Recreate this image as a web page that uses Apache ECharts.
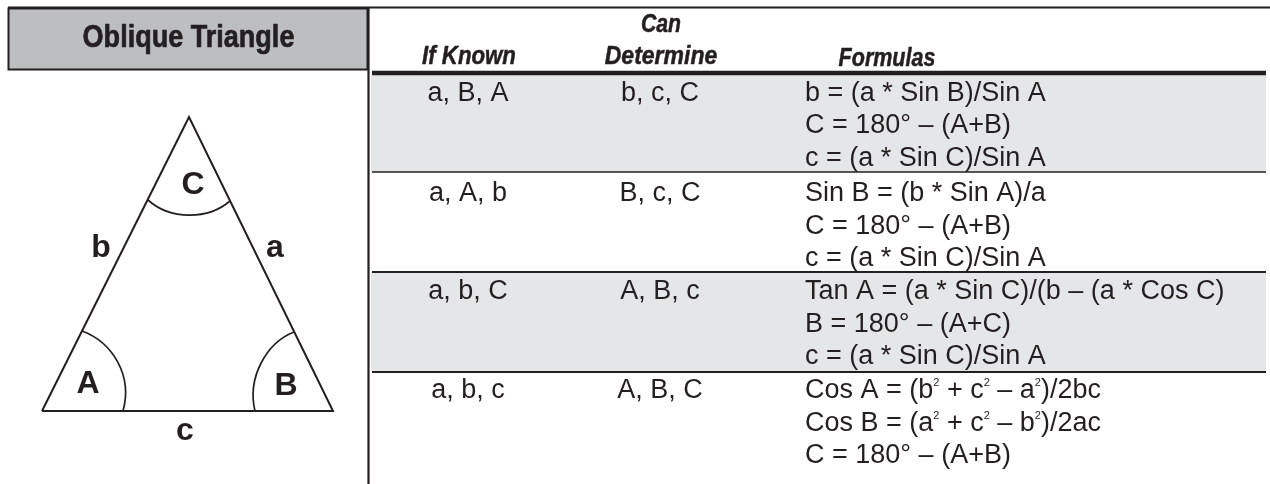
<!DOCTYPE html>
<html><head><meta charset="utf-8">
<style>html,body{margin:0;padding:0;background:#fff}#c{width:1270px;height:484px}</style>
<script src="https://cdn.jsdelivr.net/npm/echarts@6/dist/echarts.min.js"></script>
</head><body><div id="c"></div>
<script>
const title = 'Oblique Triangle';
const headerTop = ['Can'];
const headers = ['If Known', 'Determine', 'Formulas'];
const known = ['a, B, A', 'a, A, b', 'a, b, C', 'a, b, c'];
const determine = ['b, c, C', 'B, c, C', 'A, B, c', 'A, B, C'];
const formulas = [
  ['b = (a * Sin B)/Sin A', 'C = 180° – (A+B)', 'c = (a * Sin C)/Sin A'],
  ['Sin B = (b * Sin A)/a', 'C = 180° – (A+B)', 'c = (a * Sin C)/Sin A'],
  ['Tan A = (a * Sin C)/(b – (a * Cos C)', 'B = 180° – (A+C)', 'c = (a * Sin C)/Sin A'],
  ['Cos A = (b{s|2} + c{s|2} – a{s|2})/2bc', 'Cos B = (a{s|2} + c{s|2} – b{s|2})/2ac', 'C = 180° – (A+B)']
];
const sideLabels = ['b', 'a', 'c'];
const angleLabels = ['A', 'B', 'C'];

const INK = '#231f20';
const BODY = 'Liberation Sans';
const marks = [];
const rect = (x, y, w, h, fill, stroke, lw) => marks.push({k: 'rect', x, y, w, h, fill, stroke, lw});
const line = (pts, lw, color) => marks.push({k: 'line', pts, lw, color: color || INK});
const curve = (p) => marks.push({k: 'curve', p});
const text = (t, x, y, font, align, opt) => marks.push(Object.assign({k: 'text', t, x, y, font, align}, opt || {}));

// bands
[[75, 172], [272, 372]].forEach(b => rect(371, b[0], 895, b[1] - b[0], '#e5e6e7'));
// title box
rect(8.5, 8.5, 359, 61, '#bcbec0', INK, 2);
line([[8, 7.5], [1270, 7.5]], 2);
line([[368.5, 7], [368.5, 484]], 2.2);
// rules
line([[372, 73], [1266, 73]], 4.5);
line([[372, 172], [1266, 172]], 1.6);
line([[372, 272], [1266, 272]], 2);
line([[372, 372], [1266, 372]], 2);
// triangle
line([[42, 411], [189, 117], [333, 411], [42, 411]], 2);
curve([148, 200, 170, 220, 208, 220, 230, 201]);
curve([82, 331, 112, 342, 133, 375, 123, 411]);
curve([294, 332, 266, 343, 247, 378, 255, 411]);

const HEAD = 'italic bold 25px ' + BODY;
text(title, 188.5, 38, 'bold 32px ' + BODY, 'center', {sx: 0.845, heavy: 0.7});
text(headerTop[0], 661, 25, HEAD, 'center', {sx: 0.85, heavy: 0.5});
text(headers[0], 469, 57, HEAD, 'center', {sx: 0.89, heavy: 0.5});
text(headers[1], 661, 57, HEAD, 'center', {sx: 0.92, heavy: 0.5});
text(headers[2], 887, 59, HEAD, 'center', {sx: 0.86, heavy: 0.5});

const rowY = [93.5, 194, 292, 391];
const rowStep = 32.5;
const BF = '27px ' + BODY;
known.forEach((t, i) => text(t, 468, rowY[i], BF, 'center'));
determine.forEach((t, i) => text(t, 660, rowY[i], BF, 'center'));
formulas.forEach((r, i) => r.forEach((t, j) => text(t, 805, rowY[i] + j * rowStep, BF, 'left', {rich: true})));

const LF = 'bold 32px ' + BODY;
text(sideLabels[0], 101, 248, LF, 'center');
text(sideLabels[1], 275, 248, LF, 'center');
text(sideLabels[2], 185, 431, LF, 'center');
text(angleLabels[0], 88, 384, LF, 'center');
text(angleLabels[1], 286, 386, LF, 'center');
text(angleLabels[2], 193, 185, LF, 'center');

const chart = echarts.init(document.getElementById('c'), null, {renderer: 'canvas'});
chart.setOption({
  animation: false,
  grid: {left: 0, right: 0, top: 0, bottom: 0},
  xAxis: {type: 'value', min: 0, max: 1270, show: false},
  yAxis: {type: 'value', min: 0, max: 484, inverse: true, show: false},
  series: [{
    type: 'custom',
    coordinateSystem: 'cartesian2d',
    clip: false,
    silent: true,
    data: marks.map((m, i) => [i]),
    renderItem: (params, api) => {
      const m = marks[api.value(0)];
      const c = (x, y) => api.coord([x, y]);
      if (m.k === 'rect') {
        const a = c(m.x, m.y), b = c(m.x + m.w, m.y + m.h);
        return {type: 'rect', shape: {x: a[0], y: a[1], width: b[0] - a[0], height: b[1] - a[1]},
          style: {fill: m.fill, stroke: m.stroke || null, lineWidth: m.lw || 0}};
      }
      if (m.k === 'line') {
        return {type: 'polyline', shape: {points: m.pts.map(p => c(p[0], p[1]))},
          style: {fill: null, stroke: m.color, lineWidth: m.lw, lineJoin: 'miter'}};
      }
      if (m.k === 'curve') {
        const p = m.p, s = c(p[0], p[1]), c1 = c(p[2], p[3]), c2 = c(p[4], p[5]), e = c(p[6], p[7]);
        return {type: 'bezierCurve', shape: {x1: s[0], y1: s[1], cpx1: c1[0], cpy1: c1[1], cpx2: c2[0], cpy2: c2[1], x2: e[0], y2: e[1]},
          style: {fill: null, stroke: INK, lineWidth: 1.7}};
      }
      const a = c(m.x, m.y);
      const style = {text: m.t, x: 0, y: 0, font: m.font, fill: INK, align: m.align, verticalAlign: 'middle'};
      if (m.heavy) { style.stroke = INK; style.lineWidth = m.heavy; }
      if (m.rich) style.rich = {s: {fontSize: 11, fontFamily: BODY, fill: INK, verticalAlign: 'top', lineHeight: 20}};
      return {type: 'text', x: a[0], y: a[1], scaleX: m.sx || 1, style};
    }
  }]
});
</script></body></html>
